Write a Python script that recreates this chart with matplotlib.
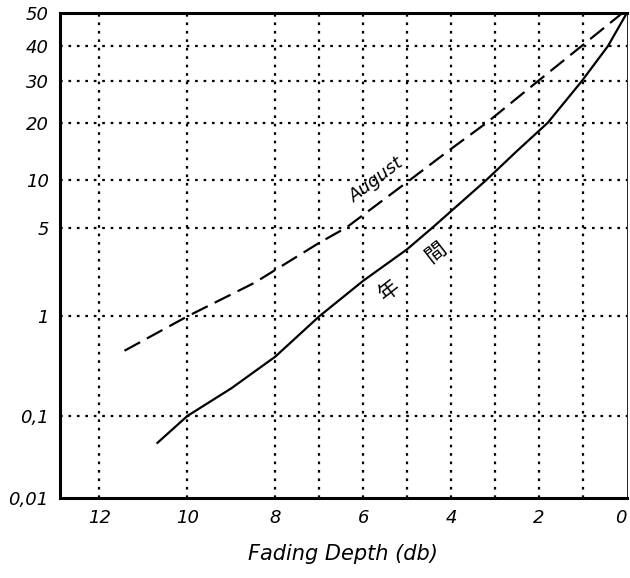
import numpy as np
import matplotlib
matplotlib.use("Agg")
import matplotlib.pyplot as plt
from statistics import NormalDist

# Fading depth (dB) versus percentage of time (normal-probability ordinate)
annual_db = [10.68, 10.0, 9.0, 8.0, 7.0, 6.0, 5.0, 4.42, 3.2, 2.5, 1.8, 1.03, 0.43, 0.0]
annual_pct = [0.049, 0.1, 0.2, 0.42, 1.0, 2.0, 3.5, 5.0, 10.0, 14.5, 20.0, 30.0, 40.0, 50.0]

august_db = [11.43, 10.0, 8.47, 7.0, 6.38, 4.94, 4.03, 3.19, 2.03, 1.03, 0.1]
august_pct = [0.48, 1.0, 1.93, 3.9, 5.0, 10.0, 14.7, 20.0, 30.0, 40.0, 50.0]

x_ticks = [12, 10, 8, 6, 4, 2, 0]
x_grid = [12, 10, 8, 7, 6, 5, 4, 3, 2, 1]
y_ticks = [0.01, 0.1, 1, 5, 10, 20, 30, 40, 50]
y_tick_labels = ["0,01", "0,1", "1", "5", "10", "20", "30", "40", "50"]
y_grid = [0.1, 1, 5, 10, 20, 30, 40]

_nd = NormalDist()
_ppf = np.vectorize(_nd.inv_cdf, otypes=[float])
_cdf = np.vectorize(_nd.cdf, otypes=[float])


def prob_forward(p):
    p = np.clip(np.asarray(p, dtype=float) / 100.0, 1e-9, 1 - 1e-9)
    return _ppf(p)


def prob_inverse(z):
    return _cdf(np.asarray(z, dtype=float)) * 100.0


fig = plt.figure(figsize=(6.3, 5.78), dpi=100)
ax = fig.add_axes([0.095, 0.1384, 0.9, 0.8391])
ax.set_yscale("function", functions=(prob_forward, prob_inverse))
ax.set_xlim(12.9, 0)
ax.set_ylim(0.01, 50)

grid_kw = dict(color="black", linestyle=(0, (1.2, 2.6)), linewidth=1.6, zorder=1)
for gx in x_grid:
    ax.axvline(gx, **grid_kw)
for gy in y_grid:
    ax.axhline(gy, **grid_kw)

ax.plot(annual_db, annual_pct, color="black", linewidth=1.6, zorder=3)
ax.plot(august_db, august_pct, color="black", linewidth=1.6,
        linestyle=(0, (8, 3.5)), zorder=3)

ax.set_xticks(x_ticks)
ax.set_xticklabels([str(v) for v in x_ticks], fontsize=13, style="italic")
ax.get_xticklabels()[-1].set_horizontalalignment("right")
ax.set_yticks(y_ticks)
ax.set_yticklabels(y_tick_labels, fontsize=13, style="italic")
ax.minorticks_off()
ax.tick_params(axis="both", length=0, pad=8)

for side in ("left", "bottom", "top"):
    ax.spines[side].set_linewidth(2.2)
ax.spines["right"].set_linewidth(0.6)

ax.set_xlabel("Fading Depth (db)", fontsize=15, style="italic", labelpad=12)

ax.text(5.7, 10.0, "August", fontsize=13, style="italic", rotation=37,
        ha="center", va="center", zorder=4)
jp = ["Noto Sans CJK JP", "DejaVu Sans"]
ax.text(5.4, 1.66, "年", fontsize=15, family=jp, rotation=38,
        ha="center", va="center", zorder=4)
ax.text(4.35, 3.3, "間", fontsize=15, family=jp, rotation=38,
        ha="center", va="center", zorder=4)

fig.savefig("out.png", dpi=100)
